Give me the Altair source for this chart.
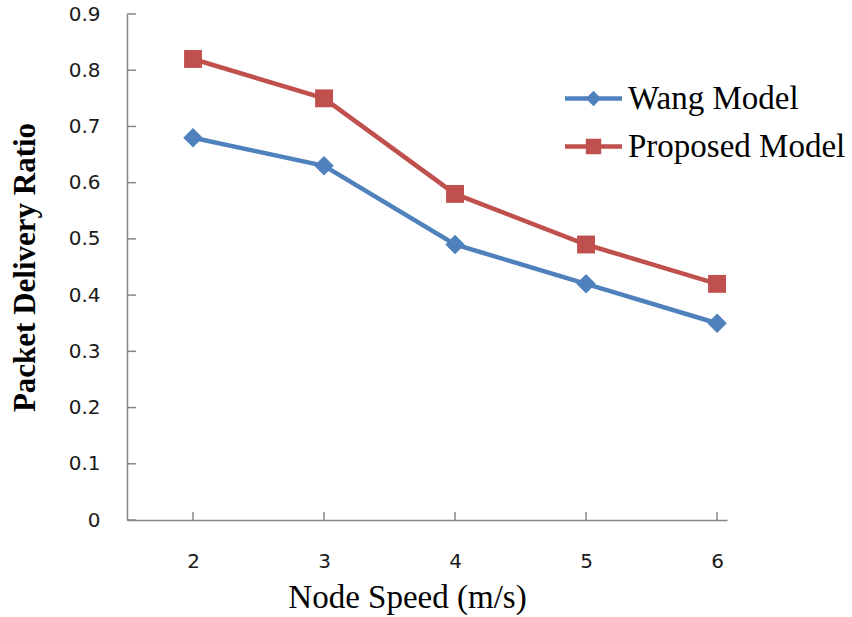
import altair as alt
import pandas as pd

speeds = [2, 3, 4, 5, 6]
wang = [0.68, 0.63, 0.49, 0.42, 0.35]
proposed = [0.82, 0.75, 0.58, 0.49, 0.42]
series_names = ["Wang Model", "Proposed Model"]
series_colors = ["#4F81BD", "#C0504D"]
y_ticks = [0, 0.1, 0.2, 0.3, 0.4, 0.5, 0.6, 0.7, 0.8, 0.9]
x_ticks = [2, 3, 4, 5, 6]

rows = []
for s, v in zip(speeds, wang):
    rows.append({"speed": s, "ratio": v, "series": series_names[0]})
for s, v in zip(speeds, proposed):
    rows.append({"speed": s, "ratio": v, "series": series_names[1]})
df = pd.DataFrame(rows)

W, H = 600, 506
AXIS_COLOR = "#868686"

x_scale = alt.Scale(domain=[1.496, 6.076], nice=False, zero=False)
y_scale = alt.Scale(domain=[0, 0.9], nice=False)
color_scale = alt.Scale(domain=series_names, range=series_colors)

diamond_path = "M-1,-0.075L1,-0.075L1,0.075L-1,0.075Z M-0.27,0L0,-0.27L0.27,0L0,0.27Z"
square_path = "M-1,-0.075L1,-0.075L1,0.075L-1,0.075Z M-0.27,-0.27L0.27,-0.27L0.27,0.27L-0.27,0.27Z"
legend_paths = [diamond_path, square_path]


def make_legend(y):
    return alt.Legend(
        title=None,
        orient="none",
        legendX=438,
        legendY=y,
        symbolSize=3249,
        symbolStrokeWidth=0,
        symbolOpacity=1,
        labelFont="Liberation Serif",
        labelFontSize=33,
        labelColor="black",
        labelOffset=6,
        labelLimit=400,
    )


x_enc = alt.X(
    "speed:Q",
    scale=x_scale,
    axis=alt.Axis(
        values=x_ticks,
        format="d",
        title="Node Speed (m/s)",
        titleFont="Liberation Serif",
        titleFontSize=33,
        titleFontWeight="normal",
        titleColor="black",
        titlePadding=10,
        titleX=280,
        labelFont="DejaVu Sans",
        labelFontSize=20,
        labelColor="#1a1a1a",
        labelPadding=31,
        ticks=False,
        tickSize=0,
        grid=False,
        domainColor=AXIS_COLOR,
        domainWidth=1.5,
    ),
)
y_enc = alt.Y(
    "ratio:Q",
    scale=y_scale,
    axis=alt.Axis(
        values=y_ticks,
        labelExpr="datum.value == 0 ? '0' : format(datum.value, '.1f')",
        title="Packet Delivery Ratio",
        titleFont="Liberation Serif",
        titleFontSize=31,
        titleFontWeight="bold",
        titleColor="black",
        titlePadding=27,
        labelFont="DejaVu Sans",
        labelFontSize=20,
        labelColor="#1a1a1a",
        labelPadding=27,
        ticks=False,
        tickSize=0,
        grid=False,
        domainColor=AXIS_COLOR,
        domainWidth=1.5,
    ),
)

lines = alt.Chart(df).mark_line(strokeWidth=4.5).encode(
    x=x_enc,
    y=y_enc,
    color=alt.Color("series:N", scale=color_scale, legend=None),
)

point_layers = []
legend_layers = []
shapes = ["diamond", "square"]
sizes = [380, 320]
for i, name in enumerate(series_names):
    point_layers.append(
        alt.Chart(df)
        .transform_filter(alt.datum.series == name)
        .mark_point(filled=True, opacity=1, shape=shapes[i], size=sizes[i], color=series_colors[i])
        .encode(
            x=alt.X("speed:Q", scale=x_scale),
            y=alt.Y("ratio:Q", scale=y_scale),
        )
    )
    legend_layers.append(
        alt.Chart(df)
        .transform_filter(alt.datum.series == name)
        .mark_point(filled=True, opacity=0, color=series_colors[i], strokeWidth=0)
        .encode(
            x=alt.X("speed:Q", scale=x_scale),
            y=alt.Y("ratio:Q", scale=y_scale),
            shape=alt.Shape(
                "series:N",
                scale=alt.Scale(domain=[name], range=[legend_paths[i]]),
                legend=make_legend(56 + 48 * i),
            ),
        )
    )

ytick_df = pd.DataFrame({"v": y_ticks})
xtick_df = pd.DataFrame({"v": x_ticks})

y_tick_marks = alt.Chart(ytick_df).mark_rule(color=AXIS_COLOR, strokeWidth=1.5).encode(
    y=alt.Y("v:Q", scale=y_scale),
    x=alt.value(0),
    x2=alt.value(9),
)
x_tick_marks = alt.Chart(xtick_df).mark_rule(color=AXIS_COLOR, strokeWidth=1.5).encode(
    x=alt.X("v:Q", scale=x_scale),
    y=alt.value(H - 8),
    y2=alt.value(H),
)

chart = (
    alt.layer(lines, *point_layers, *legend_layers, y_tick_marks, x_tick_marks)
    .resolve_scale(shape="independent")
    .resolve_legend(shape="independent")
    .properties(
        width=W,
        height=H,
        autosize=alt.AutoSizeParams(type="none"),
        padding={"left": 127, "top": 14, "right": 125, "bottom": 97},
        background="white",
    )
    .configure_view(stroke=None)
)

chart.save("out.html", embed_options={"renderer": "svg", "actions": False})
